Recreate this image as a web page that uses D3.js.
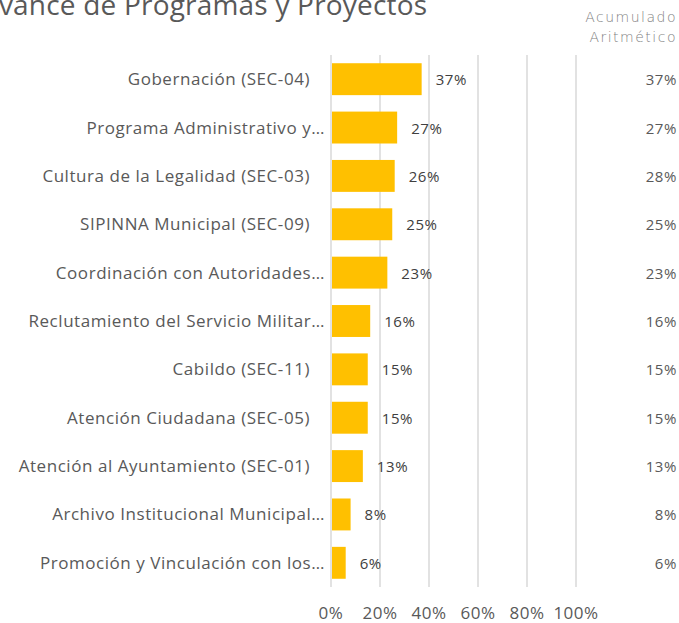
<!DOCTYPE html>
<html lang="es">
<head>
<meta charset="UTF-8">
<title>Avance de Programas y Proyectos</title>
<script src="https://cdn.jsdelivr.net/npm/d3@7"></script>
<style>
    body { margin: 0; background: #fff; }
    text { font-family: "Open Sans", sans-serif; }
</style>
</head>
<body>
<div id="chart"></div>
<script>
    // chart data
    var categories = [
        "Gobernación (SEC-04)",
        "Programa Administrativo y...",
        "Cultura de la Legalidad (SEC-03)",
        "SIPINNA Municipal (SEC-09)",
        "Coordinación con Autoridades...",
        "Reclutamiento del Servicio Militar...",
        "Cabildo (SEC-11)",
        "Atención Ciudadana (SEC-05)",
        "Atención al Ayuntamiento (SEC-01)",
        "Archivo Institucional Municipal...",
        "Promoción y Vinculación con los..."
    ];
    var avance = [37, 27, 26, 25, 23, 16, 15, 15, 13, 8, 6];
    var acumulado = [37, 27, 28, 25, 23, 16, 15, 15, 13, 8, 6];
    var xTicks = [0, 20, 40, 60, 80, 100];

    var width = 679, height = 623;

    var svg = d3.select("#chart").append("svg")
        .attr("width", width)
        .attr("height", height);

    // scales
    var x = d3.scaleLinear().domain([0, 100]).range([331, 576]);
    var y = d3.scaleBand().domain(categories).range([55, 587]).paddingInner(0.34).paddingOuter(0.17);

    // title (cut off at the top left, as in the source)
    svg.append("text")
        .attr("x", -19)
        .attr("y", 15)
        .attr("fill", "#595959")
        .style("font-size", "28px")
        .style("letter-spacing", "0.2px")
        .text("Avance de Programas y Proyectos");

    // gridlines
    svg.append("g").selectAll("line")
        .data(xTicks)
        .enter().append("line")
        .attr("x1", function (d) { return x(d); })
        .attr("x2", function (d) { return x(d); })
        .attr("y1", 55)
        .attr("y2", 587)
        .attr("stroke", "#d9d9d9")
        .attr("stroke-width", 1.5);

    // bars
    svg.append("g").selectAll("rect")
        .data(avance)
        .enter().append("rect")
        .attr("x", x(0) + 1)
        .attr("y", function (d, i) { return y(categories[i]); })
        .attr("width", function (d) { return x(d) - x(0) - 1; })
        .attr("height", y.bandwidth())
        .attr("fill", "#ffc000");

    // value labels
    svg.append("g").selectAll("text")
        .data(avance)
        .enter().append("text")
        .attr("x", function (d) { return x(d) + 14; })
        .attr("y", function (d, i) { return y(categories[i]) + y.bandwidth() / 2 + 6; })
        .attr("fill", "#404040")
        .style("font-size", "15px")
        .style("letter-spacing", "0.6px")
        .text(function (d) { return d + "%"; });

    // category labels
    svg.append("g").selectAll("text")
        .data(categories)
        .enter().append("text")
        .attr("x", function (d) { return d.slice(-3) === "..." ? 325 : 310; })
        .attr("y", function (d) { return y(d) + y.bandwidth() / 2 + 6; })
        .attr("text-anchor", "end")
        .attr("fill", "#595959")
        .style("font-size", "17px")
        .style("letter-spacing", "0.55px")
        .text(function (d) { return d.replace("...", "…"); });

    // x axis labels
    svg.append("g").selectAll("text")
        .data(xTicks)
        .enter().append("text")
        .attr("x", function (d) { return x(d); })
        .attr("y", 619)
        .attr("text-anchor", "middle")
        .attr("fill", "#595959")
        .style("font-size", "17px")
        .style("letter-spacing", "0.5px")
        .text(function (d) { return d + "%"; });

    // right column: accumulated
    var header = ["Acumulado", "Aritmético"];
    svg.append("g").selectAll("text")
        .data(header)
        .enter().append("text")
        .attr("x", 677)
        .attr("y", function (d, i) { return 22 + i * 20; })
        .attr("text-anchor", "end")
        .attr("fill", "#7f7f7f")
        .style("font-family", "'DejaVu Sans', sans-serif")
        .style("font-size", "14px")
        .style("font-weight", 200)
        .style("letter-spacing", "1.5px")
        .text(function (d) { return d; });

    svg.append("g").selectAll("text")
        .data(acumulado)
        .enter().append("text")
        .attr("x", 677)
        .attr("y", function (d, i) { return y(categories[i]) + y.bandwidth() / 2 + 6; })
        .attr("text-anchor", "end")
        .attr("fill", "#595959")
        .style("font-size", "15px")
        .style("letter-spacing", "0.6px")
        .text(function (d) { return d + "%"; });
</script>
</body>
</html>
